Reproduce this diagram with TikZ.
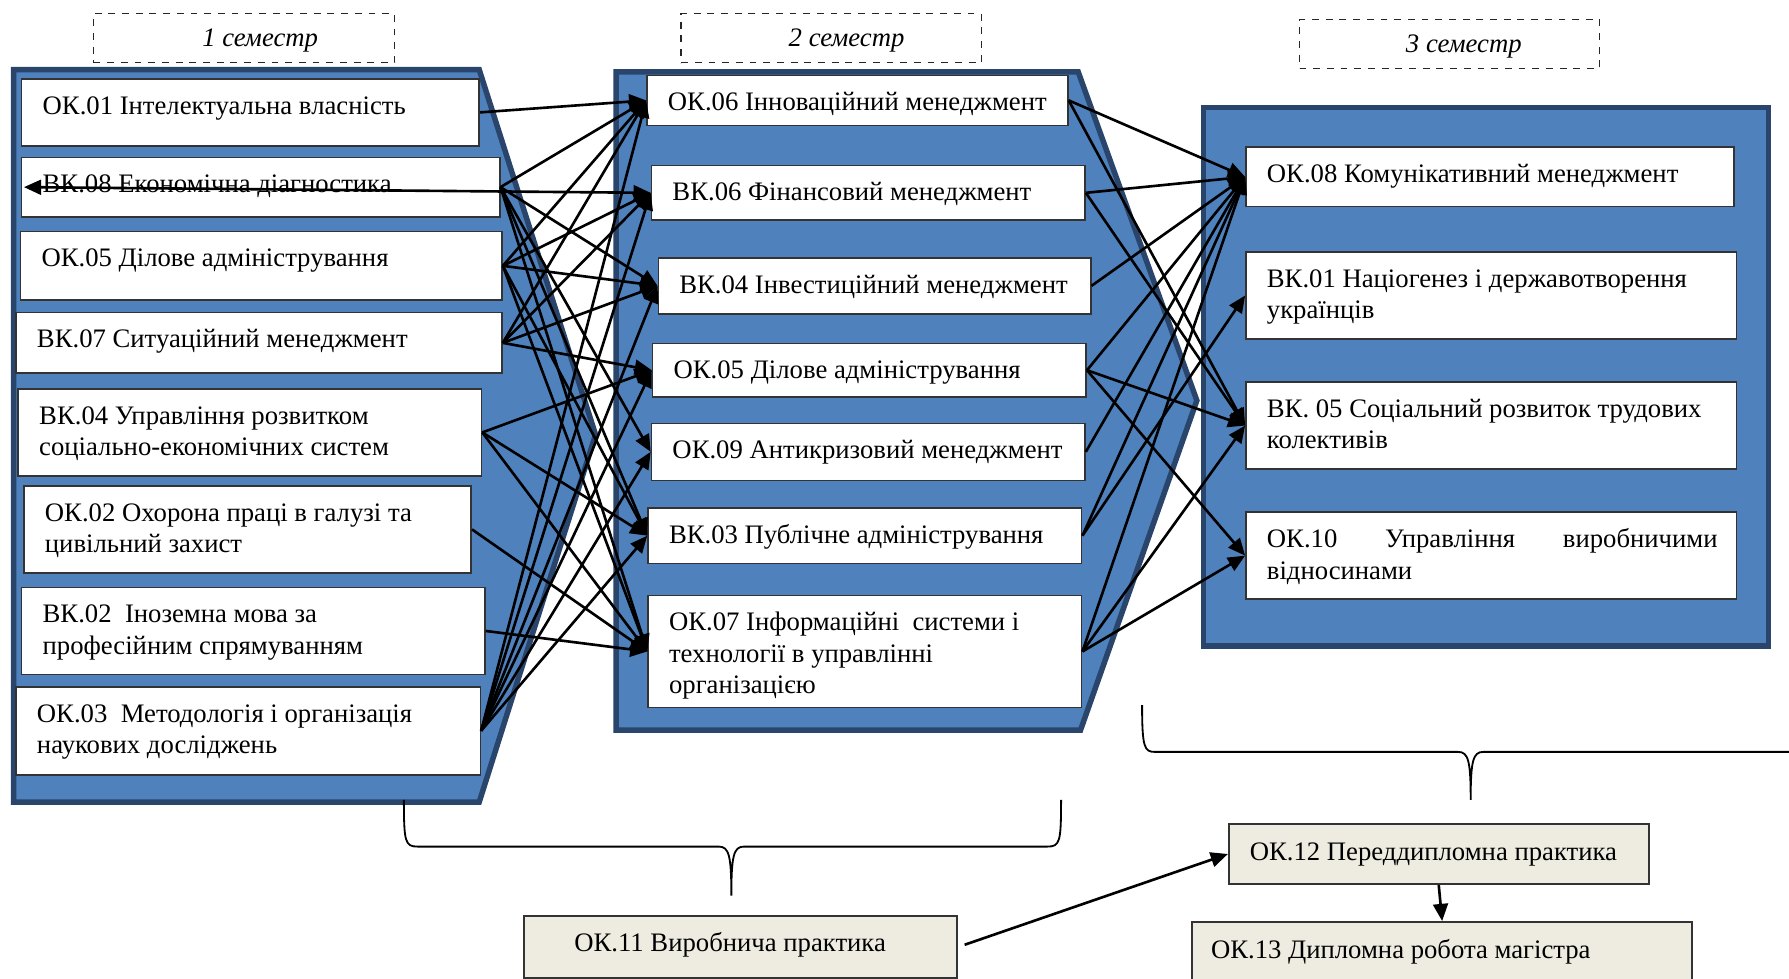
\documentclass[tikz,border=0pt]{standalone}
\usepackage{fontspec}
\setmainfont{Liberation Serif}
\usetikzlibrary{arrows.meta,calc,fit}
\definecolor{panelblue}{HTML}{4F81BD}
\definecolor{paneledge}{HTML}{29456B}
\definecolor{beige}{HTML}{EEECE1}
\tikzset{
  panel/.style={fill=panelblue, draw=paneledge, line width=2.4pt, line join=miter},
  wbox/.style={fill=white, draw=black!80, line width=0.7pt, inner sep=0pt},
  bbox/.style={fill=beige, draw=black!80, line width=0.8pt, inner sep=0pt},
  sem/.style={draw=black!85, dashed, line width=0.6pt, inner sep=0pt},
  txt/.style={inner sep=0pt, anchor=base west},
  conn/.style={line width=1.15pt, -{Triangle[length=7.5pt,width=6.5pt]}},
  conn2/.style={line width=1.15pt, {Triangle[length=7.5pt,width=6.5pt]}-{Triangle[length=7.5pt,width=6.5pt]}},
}
\newcommand{\cbx}[6]{%
  \node[wbox, fit={(#2,#3) (#4,#5)}] (#1) {};
  \node[txt] (#1-t) at ($(#2,#3)+(18,31)$) {\parbox[t]{230pt}{\raggedright #6}};
}
\begin{document}
\begin{tikzpicture}[x=0.5pt,y=-0.5pt,font=\fontsize{11.7pt}{13.75pt}\selectfont]
\useasboundingbox (0,0) rectangle (1568,858);
\fill[white] (0,0) rectangle (1568,858);

% semester labels
\node[sem, fit={(82,12) (346,55)}] (s1) {};
\node[inner sep=0pt, anchor=base] (s1-t) at (228,41) {\itshape 1 семестр};
\node[sem, fit={(597,12) (860,55)}] (s2) {};
\node[inner sep=0pt, anchor=base] (s2-t) at (742,41) {\itshape 2 семестр};
\node[sem, fit={(1139,17) (1402,60)}] (s3) {};
\node[inner sep=0pt, anchor=base] (s3-t) at (1283,46) {\itshape 3 семестр};

% panels
\draw[panel] (12,61) -- (420,61) -- (522,381) -- (420,703) -- (12,703) -- cycle;
\draw[panel] (540,63) -- (945,63) -- (1049,351) -- (947,640) -- (540,640) -- cycle;
\draw[panel] (1055,94) rectangle (1550,566);

% semester 1
\cbx{ok01}{19}{69}{420}{128}{ОК.01 Інтелектуальна власність}
\cbx{vk08}{19}{138}{438}{190}{ВК.08 Економічна діагностика}
\cbx{ok05a}{18}{203}{440}{263}{ОК.05 Ділове адміністрування}
\cbx{vk07}{14}{274}{440}{327}{ВК.07 Ситуаційний менеджмент}
\cbx{vk04a}{16}{341}{422}{417}{ВК.04 Управління розвитком\\соціально-економічних систем}
\cbx{ok02}{21}{426}{413}{502}{ОК.02 Охорона праці в галузі та\\цивільний захист}
\cbx{vk02}{19}{515}{425}{591}{ВК.02\ \ Іноземна мова за\\професійним спрямуванням}
\cbx{ok03}{14}{602}{421}{679}{ОК.03\ \ Методологія і організація\\наукових досліджень}

% semester 2
\cbx{ok06}{567}{66}{936}{110}{ОК.06 Інноваційний менеджмент}
\cbx{vk06}{571}{145}{951}{193}{ВК.06 Фінансовий менеджмент}
\cbx{vk04b}{577}{226}{956}{275}{ВК.04 Інвестиційний менеджмент}
\cbx{ok05b}{572}{301}{952}{348}{ОК.05 Ділове адміністрування}
\cbx{ok09}{571}{371}{951}{421}{ОК.09 Антикризовий менеджмент}
\cbx{vk03}{568}{445}{948}{494}{ВК.03 Публічне адміністрування}
\cbx{ok07}{568}{522}{948}{620}{ОК.07 Інформаційні\ \ системи і\\технології в управлінні\\організацією}

% semester 3
\cbx{ok08}{1092}{129}{1520}{181}{ОК.08 Комунікативний менеджмент}
\cbx{vk01}{1092}{221}{1522}{297}{ВК.01 Націогенез і державотворення\\українців}
\cbx{vk05}{1092}{335}{1522}{411}{ВК. 05 Соціальний розвиток трудових\\колективів}
\cbx{ok10}{1092}{449}{1522}{525}{\makebox[197.5pt][s]{ОК.10 Управління виробничими}\\відносинами}

% practice boxes
\node[bbox, fit={(459,803) (839,857)}] (ok11) {};
\node[txt] (ok11-t) at (503,834) {ОК.11 Виробнича практика};
\node[bbox, fit={(1077,722) (1445,775)}] (ok12) {};
\node[txt] (ok12-t) at (1095,754) {ОК.12 Переддипломна практика};
\node[bbox, fit={(1045,808) (1483,862)}] (ok13) {};
\node[txt] (ok13-t) at (1061,840) {ОК.13 Дипломна робота магістра};

% braces
\draw[line width=0.8pt] (354,701) .. controls (354,738) and (355,742) .. (366,742) -- (630,742)
  .. controls (639,742) and (641,750) .. (641,785) .. controls (641,750) and (643,742) .. (652,742)
  -- (918,742) .. controls (929,742) and (930,738) .. (930,701);
\draw[line width=0.8pt] (1001,618) .. controls (1001,655) and (1003,659) .. (1012,659) -- (1278,659)
  .. controls (1287,659) and (1289,667) .. (1289,701) .. controls (1289,667) and (1291,659) .. (1300,659)
  -- (1568,659);

% connectors semester 1 -> 2
\coordinate (vk08l) at (21,164);
\draw[conn2] (vk08l) -- (vk06.west);
\foreach \s/\t in {ok01/ok06,
  vk08/ok06, vk08/vk04b, vk08/ok09, vk08/vk03, vk08/ok07,
  ok05a/ok06, ok05a/vk06, ok05a/vk04b, ok05a/vk03, ok05a/ok07,
  vk07/ok06, vk07/vk06, vk07/vk04b, vk07/ok05b,
  vk04a/ok05b, vk04a/vk03, vk04a/ok07,
  ok02/ok07, vk02/ok07,
  ok03/ok06, ok03/vk06, ok03/vk04b, ok03/ok05b, ok03/ok09, ok03/vk03}
  \draw[conn] (\s.east) -- (\t.west);

% connectors semester 2 -> 3
\foreach \s/\t in {ok06/ok08, ok06/vk05,
  vk06/ok08, vk06/vk05,
  vk04b/ok08,
  ok05b/ok08, ok05b/vk05, ok05b/ok10,
  ok09/ok08,
  vk03/ok08, vk03/vk01,
  ok07/ok08, ok07/vk05, ok07/ok10}
  \draw[conn] (\s.east) -- (\t.west);

% practice arrows
\draw[conn, shorten <=3pt] (ok11.east) -- (ok12.west);
\draw[conn] (ok12.south) -- (ok13.north);
\end{tikzpicture}
\end{document}
